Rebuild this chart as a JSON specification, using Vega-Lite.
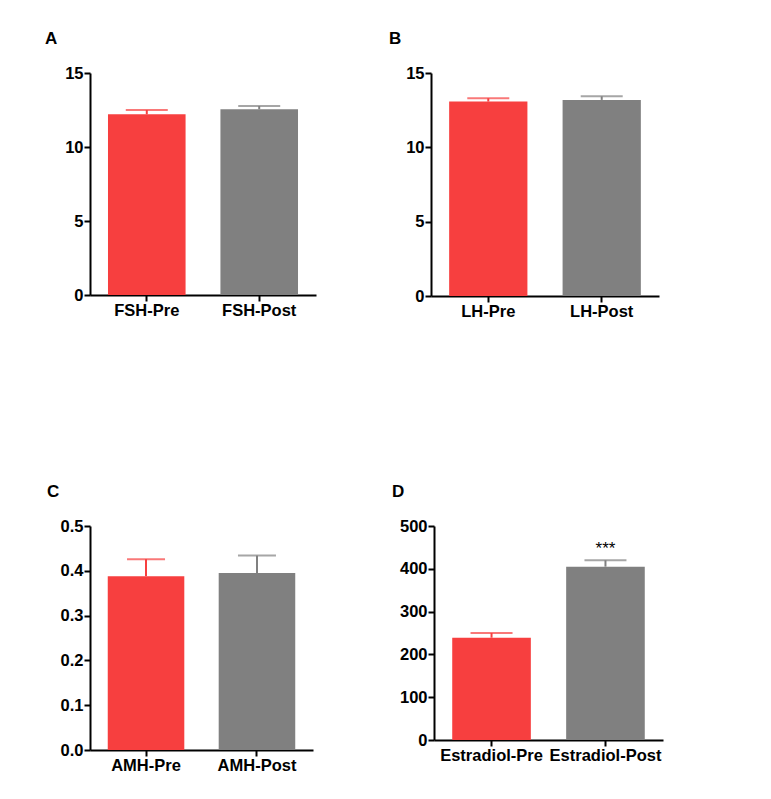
{
  "$schema": "https://vega.github.io/schema/vega-lite/v6.json",
  "background": "white",
  "padding": {"left": 45, "top": 30, "right": 5, "bottom": 5},
  "config": {
    "view": {"stroke": null},
    "font": "Liberation Sans",
    "axis": {
      "domainColor": "black", "domainWidth": 2, "tickColor": "black", "tickWidth": 2, "tickSize": 6,
      "labelColor": "black", "labelFont": "Liberation Sans", "labelFontWeight": "bold", "grid": false, "title": null
    },
    "axisY": {"labelFontSize": 16.5, "labelPadding": 1},
    "axisX": {"labelFontSize": 16.5, "labelPadding": 1, "labelAngle": 0},
    "title": {"font": "Liberation Sans", "fontSize": 17, "fontWeight": "bold", "color": "black", "anchor": "start", "frame": "group"}
  },
  "datasets": {
    "hormones": [
      {"panel": "A", "group": "FSH-Pre", "phase": "Pre", "value": 12.21, "upper": 12.5, "label": ""},
      {"panel": "A", "group": "FSH-Post", "phase": "Post", "value": 12.55, "upper": 12.77, "label": ""},
      {"panel": "B", "group": "LH-Pre", "phase": "Pre", "value": 13.08, "upper": 13.3, "label": ""},
      {"panel": "B", "group": "LH-Post", "phase": "Post", "value": 13.19, "upper": 13.43, "label": ""},
      {"panel": "C", "group": "AMH-Pre", "phase": "Pre", "value": 0.388, "upper": 0.426, "label": ""},
      {"panel": "C", "group": "AMH-Post", "phase": "Post", "value": 0.395, "upper": 0.434, "label": ""},
      {"panel": "D", "group": "Estradiol-Pre", "phase": "Pre", "value": 239, "upper": 250, "label": ""},
      {"panel": "D", "group": "Estradiol-Post", "phase": "Post", "value": 405, "upper": 420, "label": "***"}
    ]
  },
  "spacing": 163,
  "vconcat": [
    {
      "hconcat": [
        {
          "title": {"text": "A", "dx": -45, "offset": 17},
          "width": 226, "height": 222,
          "data": {"name": "hormones"},
          "transform": [{"filter": "datum.panel === 'A'"}],
          "encoding": {
            "x": {"field": "group", "type": "nominal", "sort": null, "scale": {"paddingInner": 0.31, "paddingOuter": 0.16}},
            "color": {"field": "phase", "type": "nominal", "scale": {"domain": ["Pre", "Post"], "range": ["#F73F3F", "#808080"]}, "legend": null}
          },
          "layer": [
            {"mark": {"type": "bar"}, "encoding": {"y": {"field": "value", "type": "quantitative", "scale": {"domain": [0, 15], "nice": false}, "axis": {"values": [0, 5, 10, 15]}}}},
            {"mark": {"type": "rule", "strokeWidth": 2}, "encoding": {"y": {"field": "value", "type": "quantitative"}, "y2": {"field": "upper"}}},
            {"mark": {"type": "tick", "thickness": 2, "size": 42}, "encoding": {"y": {"field": "upper", "type": "quantitative"}}}
          ]
        },
        {
          "title": {"text": "B", "dx": -42, "offset": 17},
          "width": 228, "height": 223,
          "data": {"name": "hormones"},
          "transform": [{"filter": "datum.panel === 'B'"}],
          "encoding": {
            "x": {"field": "group", "type": "nominal", "sort": null, "scale": {"paddingInner": 0.31, "paddingOuter": 0.16}},
            "color": {"field": "phase", "type": "nominal", "scale": {"domain": ["Pre", "Post"], "range": ["#F73F3F", "#808080"]}, "legend": null}
          },
          "layer": [
            {"mark": {"type": "bar"}, "encoding": {"y": {"field": "value", "type": "quantitative", "scale": {"domain": [0, 15], "nice": false}, "axis": {"values": [0, 5, 10, 15]}}}},
            {"mark": {"type": "rule", "strokeWidth": 2}, "encoding": {"y": {"field": "value", "type": "quantitative"}, "y2": {"field": "upper"}}},
            {"mark": {"type": "tick", "thickness": 2, "size": 42}, "encoding": {"y": {"field": "upper", "type": "quantitative"}}}
          ]
        }
      ],
      "spacing": 115,
      "bounds": "flush"
    },
    {
      "hconcat": [
        {
          "title": {"text": "C", "dx": -43, "offset": 17},
          "width": 223, "height": 224,
          "data": {"name": "hormones"},
          "transform": [{"filter": "datum.panel === 'C'"}],
          "encoding": {
            "x": {"field": "group", "type": "nominal", "sort": null, "scale": {"paddingInner": 0.31, "paddingOuter": 0.16}},
            "color": {"field": "phase", "type": "nominal", "scale": {"domain": ["Pre", "Post"], "range": ["#F73F3F", "#808080"]}, "legend": null}
          },
          "layer": [
            {"mark": {"type": "bar"}, "encoding": {"y": {"field": "value", "type": "quantitative", "scale": {"domain": [0, 0.5], "nice": false}, "axis": {"values": [0, 0.1, 0.2, 0.3, 0.4, 0.5], "format": ".1f"}}}},
            {"mark": {"type": "rule", "strokeWidth": 2}, "encoding": {"y": {"field": "value", "type": "quantitative"}, "y2": {"field": "upper"}}},
            {"mark": {"type": "tick", "thickness": 2, "size": 38}, "encoding": {"y": {"field": "upper", "type": "quantitative"}}}
          ]
        },
        {
          "title": {"text": "D", "dx": -42, "offset": 17},
          "width": 229, "height": 214,
          "data": {"name": "hormones"},
          "transform": [{"filter": "datum.panel === 'D'"}],
          "encoding": {
            "x": {"field": "group", "type": "nominal", "sort": null, "scale": {"paddingInner": 0.31, "paddingOuter": 0.16}},
            "color": {"field": "phase", "type": "nominal", "scale": {"domain": ["Pre", "Post"], "range": ["#F73F3F", "#808080"]}, "legend": null}
          },
          "layer": [
            {"mark": {"type": "bar"}, "encoding": {"y": {"field": "value", "type": "quantitative", "scale": {"domain": [0, 500], "nice": false}, "axis": {"values": [0, 100, 200, 300, 400, 500]}}}},
            {"mark": {"type": "rule", "strokeWidth": 2}, "encoding": {"y": {"field": "value", "type": "quantitative"}, "y2": {"field": "upper"}}},
            {"mark": {"type": "tick", "thickness": 2, "size": 42}, "encoding": {"y": {"field": "upper", "type": "quantitative"}}},
            {"mark": {"type": "text", "fontSize": 17, "baseline": "alphabetic", "dy": -6}, "encoding": {"y": {"field": "upper", "type": "quantitative"}, "text": {"field": "label"}, "color": {"value": "black"}}}
          ]
        }
      ],
      "spacing": 121,
      "bounds": "flush"
    }
  ]
}
